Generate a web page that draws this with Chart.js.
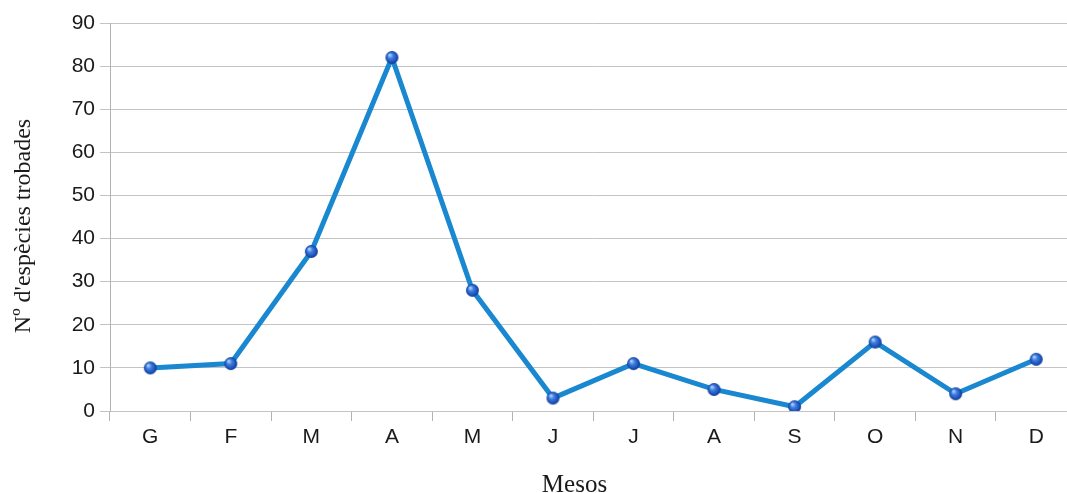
<!DOCTYPE html>
<html>
<head>
<meta charset="utf-8">
<script src="https://cdn.jsdelivr.net/npm/chart.js@4"></script>
<style>
  html, body { margin: 0; padding: 0; background: #fff; overflow: hidden; }
  #clip { width: 1067px; height: 493px; overflow: hidden; position: relative; }
  #c { position: absolute; left: 0; top: 0; }
</style>
</head>
<body>
<div id="clip"><canvas id="c" width="1088" height="493"></canvas></div>
<script>
// Months (Catalan initials) and number of species found per month
const months = ['G', 'F', 'M', 'A', 'M', 'J', 'J', 'A', 'S', 'O', 'N', 'D'];
const species = [10, 11, 37, 82, 28, 3, 11, 5, 1, 16, 4, 12];
const yTicks = [0, 10, 20, 30, 40, 50, 60, 70, 80, 90];

// Shaded sphere used as the point marker
function sphere(r) {
  const s = r * 2 + 2;
  const cv = document.createElement('canvas');
  cv.width = s; cv.height = s;
  const g = cv.getContext('2d');
  const c = s / 2;
  const grad = g.createRadialGradient(c - r * 0.35, c - r * 0.4, r * 0.1, c, c, r);
  grad.addColorStop(0, '#a9cdf7');
  grad.addColorStop(0.35, '#3f7fe0');
  grad.addColorStop(0.8, '#1a4fb8');
  grad.addColorStop(1, '#113a8a');
  g.fillStyle = grad;
  g.beginPath();
  g.arc(c, c, r, 0, Math.PI * 2);
  g.fill();
  return cv;
}
const marker = sphere(6.5);
const NBSP = '\u00a0';

new Chart(document.getElementById('c'), {
  type: 'line',
  data: {
    labels: months,
    datasets: [{
      data: species,
      borderColor: '#1a88d0',
      borderWidth: 5,
      pointStyle: marker,
      pointRadius: 6.5,
      pointHoverRadius: 6.5,
      tension: 0,
      fill: false
    }]
  },
  options: {
    responsive: false,
    animation: false,
    events: [],
    layout: { padding: { left: 0, right: 0, top: 23, bottom: 0 } },
    plugins: { legend: { display: false }, tooltip: { enabled: false } },
    scales: {
      x: {
        offset: true,
        afterFit: (axis) => { axis.height = 82; },
        grid: {
          offset: true,
          drawOnChartArea: false,
          color: '#b3b3b3',
          tickLength: 10
        },
        border: { display: false },
        ticks: {
          color: '#1a1a1a',
          font: { family: 'Liberation Sans', size: 21 },
          padding: 4,
          maxRotation: 0
        },
        title: {
          display: true,
          text: 'Mesos' + NBSP.repeat(6),
          color: '#1a1a1a',
          font: { family: 'Liberation Serif', size: 25 },
          padding: { top: 0, bottom: -7 }
        }
      },
      y: {
        min: 0,
        max: 90,
        afterFit: (axis) => { axis.width = 110; },
        afterBuildTicks: (axis) => { axis.ticks = yTicks.map(v => ({ value: v })); },
        grid: { color: '#c4c4c4', lineWidth: 1, tickLength: 10 },
        border: { display: true, color: '#b3b3b3' },
        ticks: {
          color: '#1a1a1a',
          font: { family: 'Liberation Sans', size: 21 },
          padding: 5
        },
        title: {
          display: true,
          text: 'Nº d\'espècies trobades' + NBSP.repeat(3),
          color: '#1a1a1a',
          font: { family: 'Liberation Serif', size: 24 },
          padding: { top: 9, bottom: 0 }
        }
      }
    }
  }
});
</script>
</body>
</html>
